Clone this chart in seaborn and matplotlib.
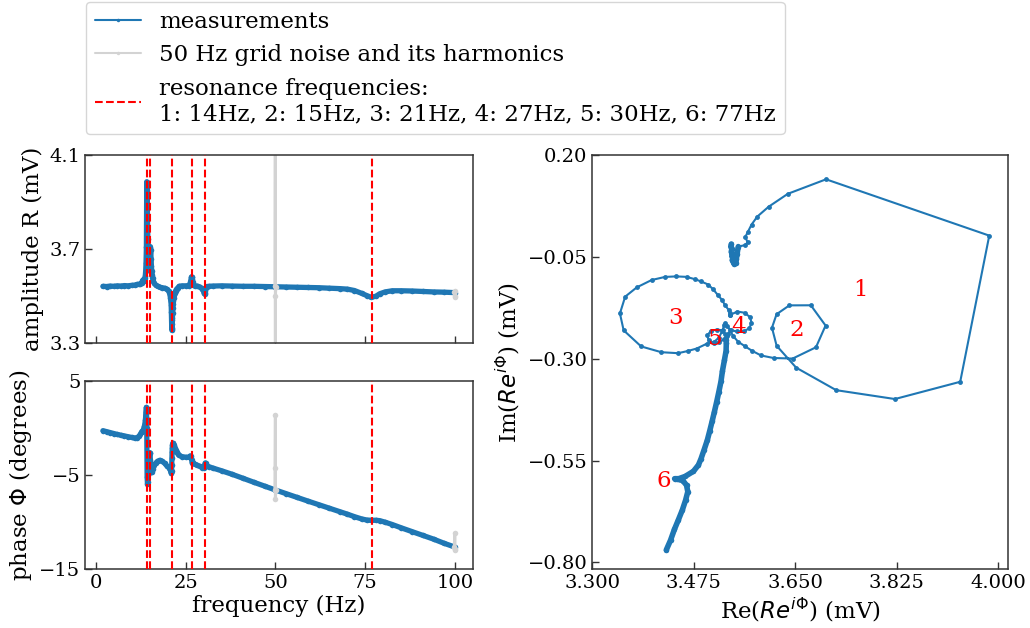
import numpy as np
import pandas as pd
import matplotlib
matplotlib.use("Agg")
import matplotlib.pyplot as plt
import seaborn as sns
from matplotlib.lines import Line2D

# ---------------- data ----------------
freq = [2.0, 3.0, 4.0, 5.0, 6.0, 7.0, 8.0, 9.0, 10.0, 10.8, 11.5, 12.0, 12.4, 12.8,
        13.0, 13.2, 13.4, 13.55, 13.7, 13.8, 13.9, 14.0, 14.1,
        14.2, 14.3, 14.4, 14.5, 14.6,
        14.7, 14.8, 14.9, 15.0, 15.1, 15.2, 15.3, 15.4,
        15.5, 15.6, 15.7, 15.8,
        16.0, 16.3, 16.7, 17.2, 17.8, 18.5, 19.2, 19.8, 20.3, 20.6, 20.8, 20.9, 21.0,
        21.05, 21.1, 21.15, 21.2, 21.25, 21.3, 21.35, 21.4, 21.45, 21.5, 21.6, 21.7, 21.8,
        22.0, 22.2, 22.5, 22.8, 23.2, 24.0, 25.0, 26.0,
        26.3, 26.5, 26.6, 26.7, 26.8, 26.9, 27.0, 27.2, 27.6, 28.3, 29.0,
        29.6, 30.0, 30.15, 30.3, 30.4, 30.5, 30.6, 30.7, 30.85, 31.5,
        32.5, 35, 38, 41, 44, 47, 50, 53, 56, 59, 62, 65, 68, 70, 72, 74, 75.5, 76.7,
        78, 79, 80.5, 82.5, 85, 88, 91, 94, 97, 100]

amplitude = [3.540, 3.539, 3.541, 3.540, 3.542, 3.541, 3.543, 3.542, 3.544, 3.545, 3.548, 3.549, 3.550, 3.552,
             3.564, 3.568, 3.564, 3.568, 3.575, 3.585, 3.605, 3.639, 3.706,
             3.985, 3.951, 3.843, 3.740, 3.666,
             3.628, 3.617, 3.623, 3.644, 3.681, 3.709, 3.696, 3.658,
             3.625, 3.603, 3.586, 3.574,
             3.561, 3.552, 3.545, 3.540, 3.536, 3.534, 3.532, 3.527, 3.520, 3.507, 3.491, 3.476, 3.460,
             3.431, 3.395, 3.362, 3.353, 3.360, 3.379, 3.404, 3.427, 3.446, 3.464, 3.479, 3.489, 3.502,
             3.511, 3.520, 3.528, 3.533, 3.540, 3.542, 3.542, 3.543,
             3.555, 3.568, 3.578, 3.581, 3.578, 3.570, 3.557, 3.547, 3.542, 3.541, 3.537,
             3.529, 3.519, 3.510, 3.507, 3.512, 3.522, 3.533, 3.537, 3.539, 3.540,
             3.541, 3.542, 3.541, 3.540, 3.540, 3.539, 3.538, 3.537, 3.536, 3.535, 3.534, 3.532,
             3.530, 3.528, 3.522, 3.510, 3.500, 3.493, 3.498, 3.508, 3.516, 3.521, 3.521, 3.520,
             3.518, 3.516, 3.515, 3.513]

phase = [-0.30, -0.40, -0.50, -0.60, -0.70, -0.78, -0.86, -0.94, -1.02, -1.08, -1.04, -0.90, -0.70, -0.40,
         -0.34, -0.23, -0.02, 0.16, 0.47, 0.78, 1.16, 1.65, 2.17,
         0.03, -5.18, -5.96, -5.79, -5.04,
         -4.24, -3.55, -3.02, -2.66, -2.63, -3.38, -4.22, -4.70,
         -4.72, -4.65, -4.48, -4.33,
         -4.16, -3.96, -3.73, -3.54, -3.44, -3.54, -3.77, -4.04, -4.21, -4.31, -4.52, -4.64, -4.75,
         -4.75, -4.56, -3.93, -3.23, -2.52, -2.12, -1.80, -1.66, -1.63, -1.64, -1.73, -1.81, -1.93,
         -2.12, -2.35, -2.55, -2.74, -2.92, -3.05, -3.11, -3.12,
         -2.97, -3.01, -3.18, -3.40, -3.61, -3.73, -3.76, -3.72, -3.86, -3.97, -4.09,
         -4.21, -4.26, -4.17, -3.97, -3.79, -3.72, -3.74, -3.88, -4.06, -4.12,
         -4.25, -4.55, -4.93, -5.35, -5.77, -6.18, -6.59, -6.98, -7.37, -7.76, -8.14, -8.52,
         -8.90, -9.15, -9.42, -9.66, -9.78, -9.80, -9.80, -9.84, -10.0, -10.25, -10.6, -11.0,
         -11.4, -11.8, -12.25, -12.65]

# 50 Hz grid noise and its harmonic (100 Hz)
noise_group = [50, 50, 50, 50, 50, 100, 100, 100, 100]
noise_freq = [49.9, 50.0, 50.0, 50.0, 50.1, 99.8, 99.9, 100.0, 100.0]
noise_amplitude = [3.540, 4.60, 2.60, 3.500, 3.538, 3.514, 3.495, 3.520, 3.500]
noise_phase = [-6.55, 1.40, -4.30, -7.50, -6.60, -12.6, -11.2, -13.0, -12.8]

# resonance frequencies (Hz)
resonances = [14.2, 15.2, 21.3, 26.7, 30.3, 76.9]
res_names = ["1", "2", "3", "4", "5", "6"]
# label positions in the complex plane
label_re = [3.762, 3.652, 3.443, 3.553, 3.513, 3.424]
label_im = [-0.131, -0.230, -0.200, -0.222, -0.251, -0.600]

amp_ticks = [3.3, 3.7, 4.1]
phase_ticks = [-15, -5, 5]
freq_ticks = [0, 25, 50, 75, 100]
re_ticks = [3.300, 3.475, 3.650, 3.825, 4.000]
im_ticks = [0.20, -0.05, -0.30, -0.55, -0.80]

assert len(freq) == len(amplitude) == len(phase)

# ---------------- style ----------------
sns.set_theme(style="ticks")
plt.rcParams["font.family"] = ["DejaVu Serif"]
plt.rcParams["mathtext.fontset"] = "dejavusans"
plt.rcParams["axes.unicode_minus"] = True
plt.rcParams["axes.edgecolor"] = "0.2"
plt.rcParams["axes.linewidth"] = 1.1
plt.rcParams["text.color"] = "black"
plt.rcParams["axes.labelcolor"] = "black"
plt.rcParams["xtick.labelcolor"] = "black"
plt.rcParams["ytick.labelcolor"] = "black"

BLUE = "#1f77b4"
GRAY = "#d3d3d3"
LBL = 16.5
TCK = 14

df = pd.DataFrame({"freq": freq, "R": amplitude, "phi": phase})
rad = np.deg2rad(df["phi"].to_numpy())
df["re"] = df["R"].to_numpy() * np.cos(rad)
df["im"] = df["R"].to_numpy() * np.sin(rad)
noise = pd.DataFrame({"grp": noise_group, "freq": noise_freq,
                      "R": noise_amplitude, "phi": noise_phase})

W, H = 1030, 628
fig = plt.figure(figsize=(W / 100, H / 100), dpi=100)
ax_amp = fig.add_axes([85.3 / W, 1 - 342.7 / H, 387.4 / W, 188.0 / H])
ax_ph = fig.add_axes([85.3 / W, 1 - 569.3 / H, 387.4 / W, 188.6 / H])
ax_nq = fig.add_axes([592.3 / W, 1 - 569.3 / H, 415.5 / W, 414.3 / H])

line_kw = dict(sort=False, estimator=None, marker="o", markeredgewidth=0)

for ax, col in ((ax_amp, "R"), (ax_ph, "phi")):
    sns.lineplot(data=df, x="freq", y=col, ax=ax, color=BLUE, linewidth=3.8,
                 markersize=4, **line_kw)
    sns.lineplot(data=noise, x="freq", y=col, units="grp", ax=ax, color=GRAY,
                 linewidth=2.2, markersize=4, **line_kw)
    for f in resonances:
        ax.axvline(f, color="red", linestyle="--", linewidth=1.5, zorder=5)
    ax.set_xlim(-2.9, 104.9)
    ax.set_xticks(freq_ticks)

ax_amp.set_ylim(3.3, 4.1)
ax_amp.set_yticks(amp_ticks)
ax_amp.set_yticklabels(["3.3", "3.7", "4.1"])
ax_amp.set_xticklabels([])
ax_amp.set_xlabel("")
ax_amp.set_ylabel("amplitude R (mV)", fontsize=LBL)

ax_ph.set_ylim(-15, 5)
ax_ph.set_yticks(phase_ticks)
ax_ph.set_xlabel("frequency (Hz)", fontsize=LBL, labelpad=2)
ax_ph.set_ylabel(r"phase $\Phi$ (degrees)", fontsize=LBL)

# complex plane
sns.lineplot(data=df, x="re", y="im", ax=ax_nq, color=BLUE, linewidth=1.5,
             markersize=3.5, **line_kw)
dense = df[(df["freq"] < 12.9)]
tail = df[(df["freq"] > 31.0)]
for part in (dense, tail):
    sns.lineplot(data=part, x="re", y="im", ax=ax_nq, color=BLUE, linewidth=4.0,
                 markersize=4, **line_kw)
for name, xr, yi in zip(res_names, label_re, label_im):
    ax_nq.text(xr, yi, name, color="red", fontsize=LBL, ha="center", va="center", zorder=6)
ax_nq.set_xlim(3.3, 4.017)
ax_nq.set_ylim(-0.817, 0.2)
ax_nq.set_xticks(re_ticks)
ax_nq.set_xticklabels([f"{v:.3f}" for v in re_ticks])
ax_nq.set_yticks(im_ticks)
ax_nq.set_yticklabels([f"{v:.2f}".replace("-", "\u2212") for v in im_ticks])
ax_nq.set_xlabel(r"Re($Re^{i\Phi}$) (mV)", fontsize=LBL, labelpad=2)
ax_nq.set_ylabel(r"Im($Re^{i\Phi}$) (mV)", fontsize=LBL)

for ax in (ax_amp, ax_ph, ax_nq):
    ax.tick_params(direction="in", length=5, width=1.0, labelsize=TCK,
                   top=False, right=False, colors="0.2", labelcolor="black")
    for s in ax.spines.values():
        s.set_visible(True)

handles = [
    Line2D([], [], color=BLUE, linewidth=1.5, marker="o", markersize=2.5, markeredgewidth=0),
    Line2D([], [], color=GRAY, linewidth=1.5, marker="o", markersize=2.5, markeredgewidth=0),
    Line2D([], [], color="red", linestyle="--", linewidth=1.5),
]
res_text = ", ".join(f"{n}: {round(f)}Hz" for n, f in zip(res_names, resonances))
labels = ["measurements", "50 Hz grid noise and its harmonics",
          "resonance frequencies:\n" + res_text]
leg = fig.legend(handles, labels, loc="upper left", bbox_to_anchor=(85.5 / W, 1 - 1.7 / H),
                 fontsize=LBL, frameon=True, fancybox=True, framealpha=0.8,
                 edgecolor="0.8", borderaxespad=0)
for t in leg.get_texts():
    t.set_color("black")

fig.savefig("out.png", dpi=100)
